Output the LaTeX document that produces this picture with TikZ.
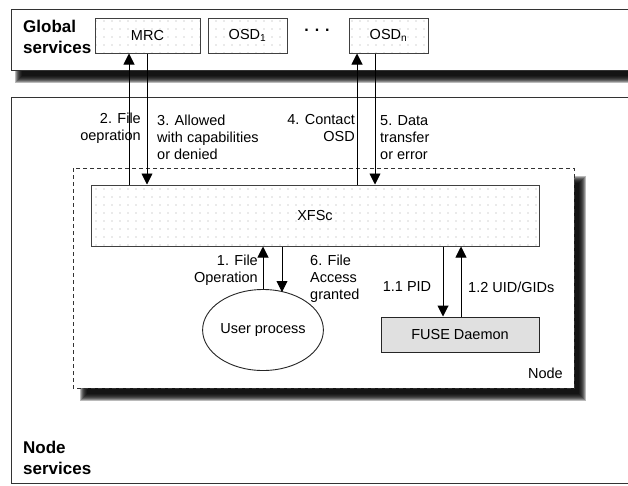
\documentclass[tikz,border=0pt]{standalone}
\usepackage{fontspec}
\setmainfont{Liberation Sans}
\usetikzlibrary{arrows.meta,shapes.geometric,patterns.meta}
\newcommand\lblfont{\fontsize{14.5}{17}\selectfont}
\newcommand\bldfont{\fontsize{17}{21}\selectfont\bfseries}
\newcommand\softshadow[4]{%
  \foreach \k in {0,...,7}{\fill[black,opacity=0.27] (#1+\k,#2+\k) rectangle (#3-\k,#4-\k);}}
\begin{document}
\begin{tikzpicture}[x=1pt,y=-1pt,
  dotbox/.style={draw=black!75, line width=1pt, pattern={Dots[radius=0.55pt,distance=8pt]},
    pattern color=black!35, minimum height=35pt, inner sep=0pt, font=\lblfont},
  arr/.style={-{Triangle[length=11pt,width=11pt]}, line width=1pt, draw=black},
  arrg/.style={-{Triangle[length=11pt,width=11pt]}, line width=0.9pt, draw=black!70, color=black},
  lbl/.style={inner sep=0pt, font=\lblfont},
  bld/.style={inner sep=0pt, font=\bldfont, align=left}]
\useasboundingbox (0,0) rectangle (628,485);
% shadows
\softshadow{15}{14}{660}{83}
\softshadow{80}{176}{586}{401}
% global services box
\filldraw[fill=white, draw=black!80, line width=1pt] (11,9) rectangle (660,70);
% node services box
\draw[black!80, line width=1pt] (11,97) rectangle (660,483.5);
% node dashed box
\filldraw[fill=white, draw=black!80, line width=0.9pt, dash pattern=on 4pt off 3pt] (73,168) rectangle (574,388);

\node[bld, anchor=west] (gs) at (23,36.5) {Global\\services};
\node[bld, anchor=west] (ns) at (23,457.5) {Node\\services};

\node[dotbox, minimum width=105pt] (mrc) at (147.5,35.5) {MRC};
\node[dotbox, minimum width=79pt] (osd1) at (247.5,35.5) {OSD\textsubscript{1}};
\node[lbl, anchor=base, font=\fontsize{16}{17}\selectfont\bfseries] (dots) at (317,31) {.\hspace{6pt}.\hspace{6pt}.};
\node[dotbox, minimum width=79pt] (osdn) at (388.5,35.5) {OSD\textsubscript{n}};

\node[dotbox, minimum width=448pt, minimum height=61pt] (xfsc) at (315,215.5) {XFSc};
\node[draw=black!85, fill=black!12, line width=1pt, minimum width=158pt, minimum height=35pt,
  inner sep=0pt, font=\lblfont] (fuse) at (460,334.5) {FUSE Daemon};
\node[draw=black!85, ellipse, line width=0.9pt, fill=white, minimum width=104pt, minimum height=81pt,
  inner sep=0pt, font=\lblfont] (user) at (263,330) {User process};
\node[lbl, anchor=east] (nodelbl) at (563,373) {Node};

% column coordinates
\coordinate (c2) at (129,0);
\coordinate (c3) at (147,0);
\coordinate (c4) at (357,0);
\coordinate (c5) at (375,0);
\coordinate (c6) at (282,0);
\coordinate (c11) at (443,0);
\coordinate (c12) at (461,0);
\coordinate (u6) at (282,292);

\draw[arr] (xfsc.north -| c2) -- (mrc.south -| c2);
\draw[arrg] (mrc.south -| c3) -- (xfsc.north -| c3);
\draw[arr] (xfsc.north -| c4) -- (osdn.south -| c4);
\draw[arrg] (osdn.south -| c5) -- (xfsc.north -| c5);
\draw[arr] (user.north) -- (xfsc.south -| user.north);
\draw[arrg] (xfsc.south -| c6) -- (u6);
\draw[arr] (xfsc.south -| c11) -- (fuse.north -| c11);
\draw[arrg] (fuse.north -| c12) -- (xfsc.south -| c12);

\node[lbl, anchor=east, align=right] (l2) at (141,128.5) {2. File\\oepration};
\node[lbl, anchor=west, align=left] (l3) at (157,137.5) {3. Allowed\\with capabilities\\or denied};
\node[lbl, anchor=east, align=right] (l4) at (355,128.5) {4. Contact\\OSD};
\node[lbl, anchor=west, align=left] (l5) at (380,137.5) {5. Data\\transfer\\or error};
\node[lbl, anchor=east, align=right] (l1) at (258,270) {1. File\\Operation};
\node[lbl, anchor=west, align=left] (l6) at (310,278.5) {6. File\\Access\\granted};
\node[lbl] (l11) at (407,287) {1.1 PID};
\node[lbl, anchor=west] (l12) at (468,287) {1.2 UID/GIDs};
\end{tikzpicture}
\end{document}
